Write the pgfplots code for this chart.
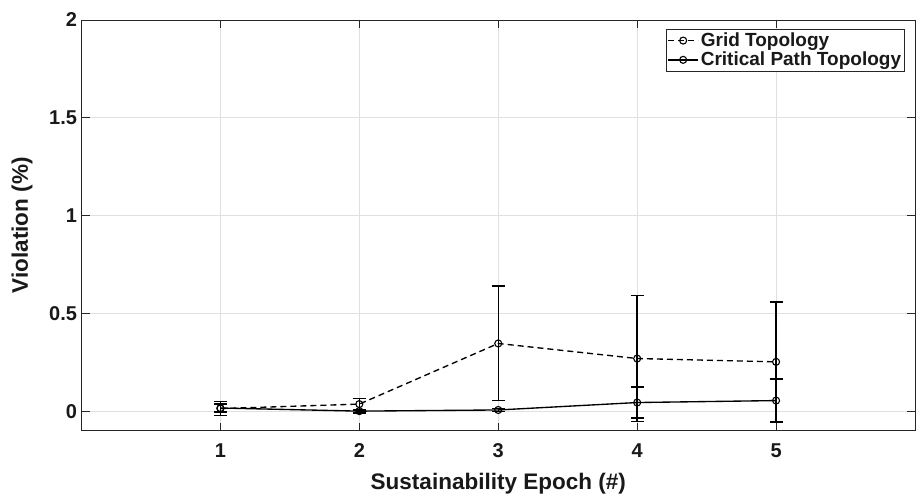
\documentclass[border=0pt]{standalone}
\usepackage{fontspec}
\setmainfont{Liberation Sans}
\usepackage{pgfplots}
\pgfplotsset{compat=1.18}
\definecolor{axgray}{gray}{0.15}
\definecolor{gridgray}{gray}{0.88}
\begin{document}
\begin{tikzpicture}
\useasboundingbox (0,0) rectangle (918pt,494pt);
\begin{axis}[
  at={(81.5pt,63.3pt)}, anchor=south west,
  scale only axis, width=833.5pt, height=410.7pt,
  xmin=0, xmax=6, ymin=-0.1, ymax=2,
  xtick={1,2,3,4,5}, ytick={0,0.5,1,1.5,2},
  tick align=inside, major tick length=8pt,
  grid=major, grid style={gridgray, line width=0.6pt},
  axis line style={axgray, line width=0.9pt},
  tick style={axgray, line width=0.9pt},
  /pgf/number format/assume math mode=true,
  ticklabel style={font=\fontsize{20}{23}\selectfont\bfseries, text=black!90},
  xticklabel style={anchor=base, yshift=-27.3pt},
  yticklabel style={xshift=-1pt},
  xlabel={Sustainability Epoch (\#)}, ylabel={Violation (\%)},
  label style={font=\fontsize{22.5}{26}\selectfont\bfseries, text=black!90},
  xlabel style={at={(axis description cs:0.5,0)}, anchor=base, yshift=-59.3pt},
  ylabel style={at={(axis description cs:0,0.5)}, anchor=center, yshift=59.5pt},
  legend cell align=left,
  legend style={at={(1,1)}, anchor=north east, xshift=-10pt, yshift=-9pt,
    draw=axgray, line width=0.9pt, fill=white, text=black!90,
    font=\fontsize{19}{22}\selectfont\bfseries, inner sep=1.5pt, row sep=0pt},
  legend image code/.code={\draw[mark repeat=2,mark phase=2,#1] plot coordinates {(0pt,0pt) (15pt,0pt) (30pt,0pt)};},
]
% Grid topology: mean +- spread
\addplot[black, line width=1.35pt, dash pattern=on 6pt off 4pt,
  mark=o, mark size=3.5pt, mark options={solid, line width=1.1pt},
  error bars/.cd, y dir=both, y explicit,
  error bar style={solid, line width=1.35pt},
  error mark options={rotate=90, mark size=6.5pt, line width=1.35pt, solid}]
coordinates {
  (1,0.013) +- (0,0.035)
  (2,0.036) +- (0,0.030)
  (3,0.346) +- (0,0.293)
  (4,0.269) +- (0,0.322)
  (5,0.252) +- (0,0.306)
};
\addlegendentry{Grid Topology}
% Critical path topology
\addplot[black, line width=1.35pt, solid,
  mark=o, mark size=3.5pt, mark options={solid, line width=1.1pt},
  error bars/.cd, y dir=both, y explicit,
  error bar style={solid, line width=1.35pt},
  error mark options={rotate=90, mark size=6.5pt, line width=1.35pt, solid}]
coordinates {
  (1,0.016) +- (0,0.020)
  (2,0.000) +- (0,0.010)
  (3,0.006) +- (0,0.008)
  (4,0.044) +- (0,0.079)
  (5,0.054) +- (0,0.110)
};
\addlegendentry{Critical Path Topology}
\end{axis}
\end{tikzpicture}
\end{document}
